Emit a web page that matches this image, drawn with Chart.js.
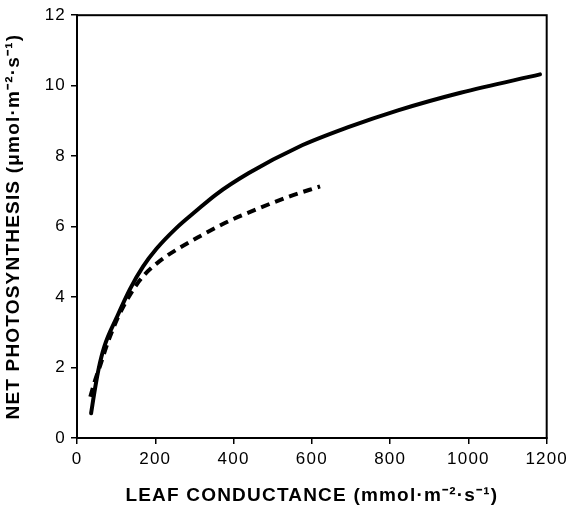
<!DOCTYPE html>
<html>
<head>
<meta charset="utf-8">
<script src="https://cdn.jsdelivr.net/npm/chart.js@4"></script>
<style>
  html, body { margin: 0; padding: 0; background: #fff; }
  #wrap { width: 573px; height: 511px; }
</style>
</head>
<body>
<div id="wrap"><canvas id="graph_photo"></canvas></div>
<script>
// values
const solidX = [36, 46, 55, 70, 101, 135, 169, 203, 253, 304, 355, 439, 566, 693, 820, 980, 1183];
const solidY = [0.70, 1.40, 1.95, 2.60, 3.41, 4.22, 4.87, 5.37, 5.95, 6.44, 6.91, 7.52, 8.26, 8.82, 9.30, 9.80, 10.32];
const dashX = [34, 46, 59, 80, 105, 143, 173, 211, 258, 308, 355, 393, 465, 541, 621];
const dashY = [1.17, 1.63, 2.05, 2.75, 3.43, 4.20, 4.64, 5.02, 5.37, 5.69, 5.97, 6.18, 6.52, 6.85, 7.14];
const xTicks = [0, 200, 400, 600, 800, 1000, 1200];
const yTicks = [0, 2, 4, 6, 8, 10, 12];

const pts = (xs, ys) => xs.map((x, i) => ({ x: x, y: ys[i] }));

// box round the plot area + wider letter spacing like the print
const frame = {
    id: 'frame',
    beforeUpdate(chart) { chart.ctx.letterSpacing = '1.2px'; },
    beforeDraw(chart) { chart.ctx.letterSpacing = '1.2px'; },
    afterDraw(chart) {
        const a = chart.chartArea, ctx = chart.ctx;
        ctx.save();
        ctx.strokeStyle = '#000';
        ctx.lineWidth = 2;
        ctx.strokeRect(a.left, a.top, a.right - a.left, a.bottom - a.top);
        ctx.restore();
    }
};

const font = 'Liberation Sans, Arial, Helvetica, sans-serif';

new Chart(document.getElementById('graph_photo'), {
    type: 'line',
    data: {
        datasets: [{
            data: pts(solidX, solidY),
            borderColor: '#000',
            borderWidth: 4,
            pointRadius: 0,
            cubicInterpolationMode: 'monotone',
            borderCapStyle: 'round'
        }, {
            data: pts(dashX, dashY),
            borderColor: '#000',
            borderWidth: 4,
            borderDash: [9, 6],
            pointRadius: 0,
            cubicInterpolationMode: 'monotone'
        }]
    },
    options: {
        responsive: true,
        maintainAspectRatio: false,
        animation: false,
        layout: { padding: { top: 10, right: 23, left: 0, bottom: 0 } },
        plugins: { legend: { display: false }, tooltip: { enabled: false } },
        scales: {
            x: {
                type: 'linear',
                min: 0,
                max: 1200,
                afterBuildTicks: s => { s.ticks = xTicks.map(v => ({ value: v })); },
                afterFit: s => { s.height = 73; },
                grid: { drawOnChartArea: false, color: '#000', tickLength: 6, lineWidth: 1.5 },
                border: { color: '#000', width: 2 },
                ticks: {
                    color: '#000',
                    font: { family: font, size: 17 },
                    padding: 5,
                    maxRotation: 0,
                    callback: v => String(v)
                },
                title: {
                    display: true,
                    text: 'LEAF CONDUCTANCE (mmol·m⁻²·s⁻¹)',
                    color: '#000',
                    font: { family: font, size: 19, weight: 'bold' },
                    padding: { top: 10, bottom: 4 }
                }
            },
            y: {
                min: 0,
                max: 12,
                afterBuildTicks: s => { s.ticks = yTicks.map(v => ({ value: v })); },
                afterFit: s => { s.width = 77; },
                grid: { drawOnChartArea: false, color: '#000', tickLength: 6, lineWidth: 1.5 },
                border: { color: '#000', width: 2 },
                ticks: {
                    color: '#000',
                    font: { family: font, size: 17 },
                    padding: 5,
                    callback: v => String(v)
                },
                title: {
                    display: true,
                    text: 'NET PHOTOSYNTHESIS (μmol·m⁻²·s⁻¹)',
                    color: '#000',
                    font: { family: font, size: 19, weight: 'bold' },
                    padding: { top: 2, bottom: 4 }
                }
            }
        }
    },
    plugins: [frame]
});
</script>
</body>
</html>
